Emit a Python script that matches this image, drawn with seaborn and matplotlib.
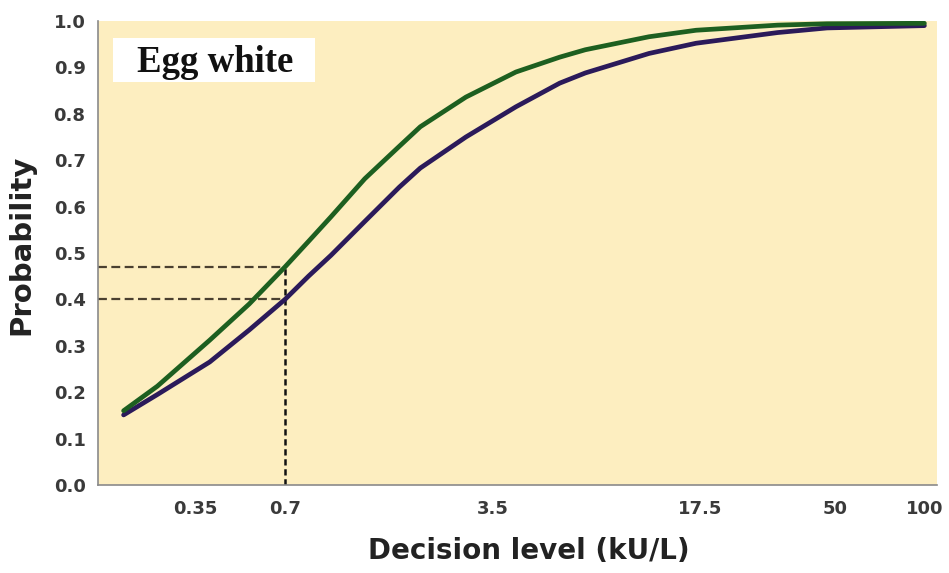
import pandas as pd
import numpy as np
import matplotlib.pyplot as plt
import seaborn as sns
from matplotlib.patches import Rectangle

sns.set_style('white')
plt.rcParams['font.family'] = ['DejaVu Sans']

# decision level (kU/L) and probabilities
levels = [0.2, 0.26, 0.39, 0.53, 0.7, 0.84, 1.0, 1.3, 1.7, 2.0, 2.85,
          4.2, 5.9, 7.2, 11.8, 17, 32, 47, 100]
prob_green = [0.16, 0.213, 0.312, 0.39, 0.47, 0.525, 0.578, 0.66, 0.73, 0.772, 0.836,
              0.89, 0.922, 0.938, 0.966, 0.98, 0.991, 0.994, 0.995]
prob_purple = [0.151, 0.195, 0.265, 0.334, 0.40, 0.45, 0.495, 0.568, 0.642, 0.683, 0.75,
               0.815, 0.866, 0.888, 0.93, 0.952, 0.975, 0.985, 0.99]

tick_vals = [0.35, 0.7, 3.5, 17.5, 50, 100]
tick_labels = ['0.35', '0.7', '3.5', '17.5', '50', '100']

cutoff = 0.7
cut_green = 0.47
cut_purple = 0.40

df = pd.DataFrame({'level': levels, 'green': prob_green, 'purple': prob_purple})

fig = plt.figure(figsize=(9.49, 5.73), dpi=100)
ax = fig.add_axes([0.1033, 0.1536, 0.8837, 0.8098])
ax.set_facecolor('#fdeec0')

# dashed guide lines at 0.7 kU/L
ax.plot([0.164, cutoff], [cut_green, cut_green], color='#4a4030', linestyle=(0, (4, 2)), linewidth=1.6)
ax.plot([0.164, cutoff], [cut_purple, cut_purple], color='#4a4030', linestyle=(0, (4, 2)), linewidth=1.6)
ax.plot([cutoff, cutoff], [0, cut_green], color='#111111', linestyle=(0, (2.5, 1.5)), linewidth=1.8)

sns.lineplot(data=df, x='level', y='purple', color='#2b1a5a', linewidth=3.4, ax=ax)
sns.lineplot(data=df, x='level', y='green', color='#1d5f20', linewidth=3.4, ax=ax)

ax.set_xscale('log')
ax.set_xlim(0.164, 110)
ax.set_ylim(0, 1.0)
ax.set_xticks(tick_vals)
ax.set_xticklabels(tick_labels)
ax.minorticks_off()
ax.set_yticks(np.arange(0, 1.01, 0.1))
ax.set_yticklabels(['%.1f' % v for v in np.arange(0, 1.01, 0.1)])

for s in ['top', 'right']:
    ax.spines[s].set_visible(False)
for s in ['left', 'bottom']:
    ax.spines[s].set_color('#8a8a8a')
    ax.spines[s].set_linewidth(1.2)
ax.tick_params(axis='both', which='major', direction='out', length=4, color='#8a8a8a',
               labelsize=13, labelcolor='#3a3a3a', pad=5)
ax.tick_params(axis='x', pad=7)
for lab in ax.get_xticklabels() + ax.get_yticklabels():
    lab.set_fontweight('bold')

ax.set_xlabel('Decision level (kU/L)', fontsize=20, fontweight='bold', color='#222222')
ax.set_ylabel('Probability', fontsize=21, fontweight='bold', color='#222222')
ax.xaxis.set_label_coords(0.514, -0.112)
ax.yaxis.set_label_coords(-0.075, 0.517)

# white label box
ax.add_patch(Rectangle((0.018, 0.8685), 0.2406, 0.095, transform=ax.transAxes,
                       facecolor='white', edgecolor='none', zorder=3))
ax.text(0.047, 0.89, 'Egg white', transform=ax.transAxes, fontsize=26.5, fontweight='bold',
        family='Liberation Serif', color='#111111', va='baseline', ha='left', zorder=4)

plt.savefig('out.png', dpi=100)
